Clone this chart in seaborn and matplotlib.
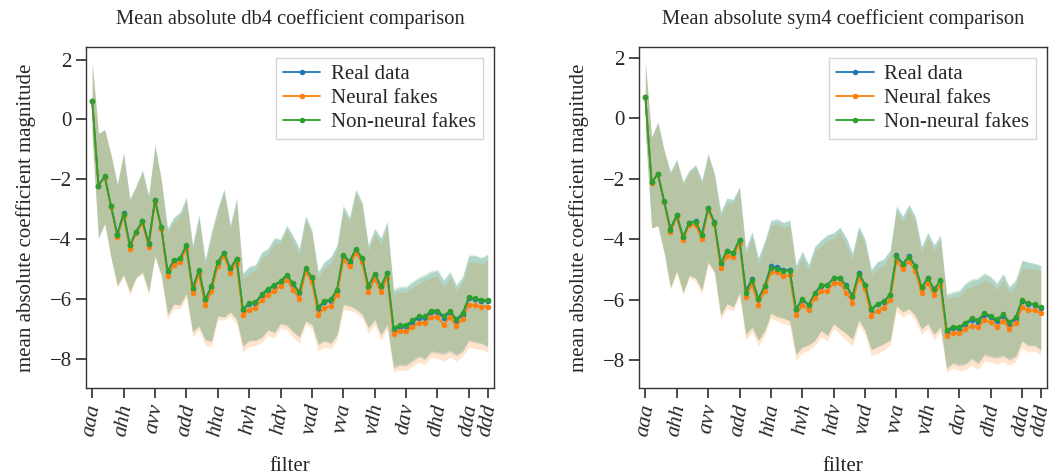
import numpy as np
import pandas as pd
import matplotlib
matplotlib.use("Agg")
import matplotlib.pyplot as plt
import seaborn as sns

# wavelet packet filters (level 3)
filters = [
    "aaa", "aah", "aav", "aad", "aha", "ahh", "ahv", "ahd",
    "ava", "avh", "avv", "avd", "ada", "adh", "adv", "add",
    "haa", "hah", "hav", "had", "hha", "hhh", "hhv", "hhd",
    "hva", "hvh", "hvv", "hvd", "hda", "hdh", "hdv", "hdd",
    "vaa", "vah", "vav", "vad", "vha", "vhh", "vhv", "vhd",
    "vva", "vvh", "vvv", "vvd", "vda", "vdh", "vdv", "vdd",
    "daa", "dah", "dav", "dad", "dha", "dhh", "dhv", "dhd",
    "dva", "dvh", "dvv", "dvd", "dda", "ddh", "ddv", "ddd",
]
tick_labels = ["aaa", "ahh", "avv", "add", "hha", "hvh", "hdv",
               "vad", "vva", "vdh", "dav", "dhd", "dda", "ddd"]

series_names = ["Real data", "Neural fakes", "Non-neural fakes"]

# db4 panel
db4_real = [
    0.63, -2.21, -1.91, -2.91, -3.84, -3.14, -4.20, -3.75, -3.39, -4.14,
    -2.70, -3.60, -5.09, -4.73, -4.66, -4.22, -5.67, -5.06, -6.03, -5.60,
    -4.78, -4.47, -5.00, -4.66, -6.38, -6.17, -6.14, -5.88, -5.69, -5.56,
    -5.43, -5.23, -5.51, -5.81, -4.99, -5.30, -6.33, -6.10, -6.06, -5.72,
    -4.55, -4.77, -4.35, -4.66, -5.60, -5.19, -5.60, -5.15, -7.03, -6.93,
    -6.94, -6.78, -6.64, -6.64, -6.45, -6.45, -6.63, -6.45, -6.74, -6.54,
    -5.98, -6.01, -6.07, -6.07,
]
db4_neural = [
    0.63, -2.22, -1.92, -2.92, -3.92, -3.22, -4.32, -3.79, -3.47, -4.26,
    -2.76, -3.66, -5.22, -4.88, -4.78, -4.32, -5.82, -5.18, -6.22, -5.74,
    -4.90, -4.57, -5.12, -4.81, -6.55, -6.36, -6.31, -6.04, -5.87, -5.73,
    -5.57, -5.36, -5.69, -6.00, -5.09, -5.42, -6.53, -6.30, -6.24, -5.87,
    -4.71, -4.90, -4.47, -4.77, -5.78, -5.34, -5.78, -5.29, -7.16, -7.07,
    -7.09, -6.94, -6.81, -6.79, -6.62, -6.61, -6.86, -6.62, -6.91, -6.68,
    -6.19, -6.22, -6.26, -6.26,
]
db4_nonneural = [
    0.63, -2.21, -1.90, -2.90, -3.86, -3.16, -4.21, -3.75, -3.40, -4.15,
    -2.71, -3.60, -5.08, -4.71, -4.64, -4.21, -5.64, -5.04, -6.02, -5.58,
    -4.76, -4.46, -4.98, -4.65, -6.34, -6.14, -6.11, -5.85, -5.66, -5.53,
    -5.40, -5.20, -5.48, -5.78, -4.98, -5.27, -6.28, -6.06, -6.02, -5.69,
    -4.52, -4.74, -4.33, -4.63, -5.57, -5.16, -5.57, -5.12, -6.96, -6.87,
    -6.88, -6.72, -6.58, -6.58, -6.39, -6.39, -6.57, -6.39, -6.68, -6.48,
    -5.95, -5.98, -6.04, -6.04,
]
db4_std = [
    1.27, 1.75, 1.57, 1.72, 1.70, 2.04, 1.56, 1.53, 1.70, 1.61,
    1.85, 1.60, 1.44, 1.45, 1.55, 1.61, 1.45, 1.86, 1.34, 1.83,
    1.80, 2.14, 1.45, 2.02, 1.22, 1.24, 1.26, 1.42, 1.36, 1.58,
    1.41, 1.67, 1.60, 1.48, 1.76, 1.57, 1.21, 1.32, 1.44, 1.50,
    1.65, 1.48, 2.00, 1.87, 1.38, 1.52, 1.62, 1.72, 1.30, 1.30,
    1.31, 1.32, 1.31, 1.40, 1.34, 1.38, 1.23, 1.32, 1.17, 1.24,
    1.42, 1.45, 1.43, 1.54,
]

# sym4 panel
sym4_real = [
    0.71, -2.12, -1.84, -2.76, -3.66, -3.19, -3.92, -3.45, -3.40, -3.85,
    -2.95, -3.44, -4.80, -4.39, -4.46, -4.01, -5.69, -5.32, -5.97, -5.55,
    -4.89, -4.92, -5.01, -5.02, -6.33, -5.99, -6.17, -5.80, -5.53, -5.52,
    -5.28, -5.28, -5.52, -5.89, -5.10, -5.50, -6.33, -6.15, -6.06, -5.85,
    -4.53, -4.81, -4.56, -4.88, -5.61, -5.29, -5.68, -5.38, -7.07, -6.94,
    -6.95, -6.81, -6.66, -6.72, -6.49, -6.58, -6.71, -6.52, -6.80, -6.63,
    -6.04, -6.14, -6.16, -6.27,
]
sym4_neural = [
    0.71, -2.13, -1.85, -2.77, -3.76, -3.27, -4.02, -3.52, -3.52, -3.99,
    -3.03, -3.51, -4.95, -4.54, -4.58, -4.12, -5.92, -5.49, -6.16, -5.70,
    -5.07, -5.09, -5.21, -5.19, -6.51, -6.17, -6.34, -5.95, -5.72, -5.70,
    -5.45, -5.45, -5.76, -6.09, -5.27, -5.65, -6.52, -6.36, -6.26, -6.01,
    -4.72, -4.99, -4.72, -5.05, -5.78, -5.44, -5.85, -5.52, -7.18, -7.08,
    -7.11, -6.98, -6.85, -6.90, -6.68, -6.74, -6.90, -6.69, -6.96, -6.77,
    -6.25, -6.35, -6.35, -6.43,
]
sym4_nonneural = [
    0.71, -2.12, -1.84, -2.75, -3.68, -3.21, -3.93, -3.46, -3.42, -3.86,
    -2.96, -3.45, -4.79, -4.38, -4.45, -4.01, -5.76, -5.34, -5.97, -5.55,
    -4.94, -4.97, -5.04, -5.04, -6.31, -5.97, -6.16, -5.78, -5.51, -5.51,
    -5.29, -5.29, -5.54, -5.87, -5.13, -5.51, -6.31, -6.13, -6.04, -5.83,
    -4.56, -4.83, -4.58, -4.89, -5.59, -5.27, -5.65, -5.36, -7.00, -6.89,
    -6.90, -6.76, -6.61, -6.67, -6.44, -6.53, -6.65, -6.47, -6.74, -6.58,
    -6.01, -6.12, -6.14, -6.25,
]
sym4_std = [
    1.13, 1.50, 1.71, 1.69, 1.91, 1.84, 1.83, 1.74, 1.87, 1.82,
    1.79, 1.62, 1.71, 1.74, 1.78, 1.75, 1.42, 1.57, 1.36, 1.48,
    1.53, 1.61, 1.58, 1.66, 1.48, 1.58, 1.33, 1.55, 1.50, 1.66,
    1.50, 1.68, 1.58, 1.42, 1.55, 1.50, 1.32, 1.41, 1.40, 1.49,
    1.64, 1.58, 1.72, 1.64, 1.36, 1.50, 1.48, 1.51, 1.22, 1.17,
    1.23, 1.33, 1.31, 1.40, 1.34, 1.32, 1.22, 1.35, 1.20, 1.26,
    1.33, 1.38, 1.35, 1.40,
]


def draw_panel(ax, means, std, title):
    df = pd.DataFrame({
        "idx": np.tile(np.arange(len(filters)), len(series_names)),
        "value": np.concatenate(means),
        "series": np.repeat(series_names, len(filters)),
    })
    palette = sns.color_palette("tab10", 3)
    x = np.arange(len(filters))
    sd = np.array(std)
    for m, c in zip(means, palette):
        m = np.array(m)
        ax.fill_between(x, m - sd, m + sd, color=c, alpha=0.2, linewidth=0)
    sns.lineplot(data=df, x="idx", y="value", hue="series", palette=palette,
                 marker="o", markersize=4, markeredgewidth=0, linewidth=1.3,
                 ax=ax)
    ticks = [filters.index(t) for t in tick_labels]
    ax.set_xticks(ticks)
    ax.set_xticklabels(tick_labels, rotation=80, fontstyle="italic")
    ax.margins(x=0.015)
    ax.yaxis.set_major_locator(plt.MultipleLocator(2))
    ax.set_title(title, fontsize=14.8, pad=17)
    ax.set_xlabel("filter", fontsize=15, labelpad=14)
    ax.set_ylabel("mean absolute coefficient magnitude", fontsize=15,
                  labelpad=10)
    ax.tick_params(labelsize=15, length=7, color="#333333")
    ax.tick_params(axis="x", labelsize=15.5)
    for s in ax.spines.values():
        s.set_color("#333333")
        s.set_linewidth(1.0)
    leg = ax.legend(loc="upper right", fontsize=15, frameon=True,
                    fancybox=False, edgecolor="#cccccc", handlelength=1.8,
                    borderaxespad=0.5, labelspacing=0.2, borderpad=0.35,
                    handletextpad=0.5)
    leg.get_frame().set_linewidth(1.0)


sns.set_theme(style="ticks")
plt.rcParams["font.family"] = ["Liberation Serif", "DejaVu Serif"]
plt.rcParams["axes.unicode_minus"] = True

fig, axes = plt.subplots(1, 2, figsize=(10.52, 4.76), dpi=100)
draw_panel(axes[0], [db4_real, db4_neural, db4_nonneural], db4_std,
           "Mean absolute db4 coefficient comparison")
draw_panel(axes[1], [sym4_real, sym4_neural, sym4_nonneural], sym4_std,
           "Mean absolute sym4 coefficient comparison")
fig.subplots_adjust(left=0.082, right=0.995, top=0.901, bottom=0.185,
                    wspace=0.358)
fig.savefig("out.png", dpi=100)
